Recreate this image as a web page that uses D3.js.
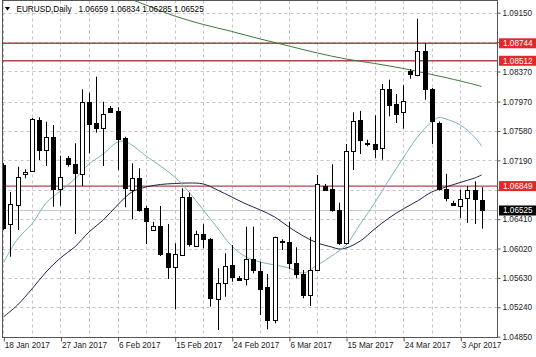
<!DOCTYPE html>
<html><head><meta charset="utf-8">
<script src="https://cdn.jsdelivr.net/npm/d3@7"></script>
<style>
html,body{margin:0;padding:0;background:#fff;}
svg{display:block;font-family:"Liberation Sans",Arial,sans-serif;}
</style></head>
<body><svg id="c" width="536" height="357"></svg>
<script>
const symbolTitle = "EURUSD,Daily";
const headerOHLC = "1.06659 1.06834 1.06285 1.06525";

const dates = ["2017-01-18","2017-01-19","2017-01-20","2017-01-22","2017-01-23","2017-01-24","2017-01-25","2017-01-26","2017-01-27","2017-01-29",
"2017-01-30","2017-01-31","2017-02-01","2017-02-02","2017-02-03","2017-02-05","2017-02-06","2017-02-07","2017-02-08","2017-02-09",
"2017-02-10","2017-02-12","2017-02-13","2017-02-14","2017-02-15","2017-02-16","2017-02-17","2017-02-19","2017-02-20","2017-02-21",
"2017-02-22","2017-02-23","2017-02-24","2017-02-26","2017-02-27","2017-02-28","2017-03-01","2017-03-02","2017-03-03","2017-03-05",
"2017-03-06","2017-03-07","2017-03-08","2017-03-09","2017-03-10","2017-03-12","2017-03-13","2017-03-14","2017-03-15","2017-03-16",
"2017-03-17","2017-03-19","2017-03-20","2017-03-21","2017-03-22","2017-03-23","2017-03-24","2017-03-26","2017-03-27","2017-03-28",
"2017-03-29","2017-03-30","2017-03-31","2017-04-02","2017-04-03","2017-04-04","2017-04-05","2017-04-06"];

const open = [1.07129,1.06342,1.06607,1.07019,1.07040,1.07726,1.07319,1.07496,1.06806,1.07218,
1.07138,1.07019,1.07969,1.07690,1.07616,1.07889,1.07849,1.07483,1.06806,1.06960,
1.06554,1.06266,1.06319,1.05965,1.05771,1.05934,1.06708,1.06058,1.06213,1.06143,
1.05360,1.05567,1.05798,1.05633,1.05607,1.05881,1.05726,1.05506,1.05072,1.06111,
1.06103,1.05824,1.05682,1.05403,1.05735,1.06854,1.06806,1.06532,1.06090,1.07315,
1.07722,1.07421,1.07414,1.07354,1.08137,1.07938,1.07832,1.08380,1.08327,1.08646,
1.08137,1.07686,1.06814,1.06618,1.06594,1.06682,1.06793,1.06659];
const high = [1.07155,1.06770,1.07106,1.07072,1.07753,1.07762,1.07703,1.07660,1.07252,1.07248,
1.07417,1.08133,1.08088,1.08301,1.07969,1.07912,1.07895,1.07504,1.07151,1.07085,
1.06585,1.06376,1.06585,1.06346,1.06090,1.06820,1.06761,1.06257,1.06342,1.06160,
1.05758,1.05957,1.06067,1.05656,1.06310,1.06310,1.05845,1.05682,1.06177,1.06143,
1.06376,1.06037,1.05735,1.06177,1.06996,1.06877,1.07138,1.06628,1.07408,1.07828,
1.07846,1.07465,1.07788,1.08204,1.08261,1.08071,1.08187,1.08403,1.09070,1.08748,
1.08150,1.07706,1.07013,1.06655,1.06801,1.06846,1.06912,1.06834];
const low = [1.06266,1.05912,1.06266,1.06952,1.07036,1.07195,1.07116,1.06575,1.06589,1.07106,
1.06213,1.06850,1.07284,1.07558,1.07116,1.07823,1.07062,1.06567,1.06408,1.06509,
1.06080,1.06257,1.05921,1.05616,1.05214,1.05921,1.06045,1.06045,1.06023,1.05248,
1.04939,1.05381,1.05580,1.05596,1.05530,1.05691,1.05138,1.04948,1.05028,1.06001,
1.05745,1.05625,1.05360,1.05257,1.05722,1.06797,1.06509,1.06067,1.06074,1.07062,
1.07275,1.07377,1.07222,1.07199,1.07775,1.07686,1.07611,1.08274,1.08306,1.07995,
1.07408,1.06788,1.06647,1.06585,1.06425,1.06359,1.06346,1.06285];
const close = [1.06293,1.06607,1.06974,1.07040,1.07735,1.07328,1.07496,1.06806,1.06966,1.07138,
1.07019,1.07969,1.07682,1.07624,1.07806,1.07836,1.07474,1.06820,1.06960,1.06532,
1.06376,1.06319,1.05948,1.05779,1.05948,1.06700,1.06080,1.06213,1.06143,1.05360,
1.05567,1.05788,1.05633,1.05612,1.05879,1.05735,1.05492,1.05072,1.06169,1.06120,
1.05824,1.05682,1.05403,1.05735,1.06873,1.06806,1.06532,1.06090,1.07315,1.07717,
1.07461,1.07414,1.07354,1.08137,1.07929,1.07806,1.07974,1.08337,1.08646,1.08141,
1.07709,1.06814,1.06691,1.06594,1.06682,1.06793,1.06668,1.06525];

// moving averages (bar index, value)
const fastMaIdx = [0,2,4,6,8,10,12,14,16,17,18,20,22,24,26,28,30,32,34,36,38,40,42,44,46,48,50,52,54,56,58,60,61,62,64,66,67];
const fastMa = [1.05828,1.06147,1.06346,1.06624,1.06784,1.06943,1.07142,1.07275,1.07434,1.07441,1.07394,1.07248,1.07116,1.06970,1.06770,1.06532,1.06293,1.06054,1.05908,1.05841,1.05802,1.05762,1.05695,1.05802,1.05921,1.06067,1.06346,1.06624,1.06930,1.07222,1.07500,1.07700,1.07759,1.07739,1.07660,1.07500,1.07381];
const midMaIdx = [0,2,4,6,8,10,12,14,16,18,20,22,24,26,28,30,32,34,36,38,40,42,44,46,47,48,50,52,54,56,58,60,62,64,66,67];
const midMa = [1.05111,1.05271,1.05483,1.05709,1.05895,1.06040,1.06240,1.06399,1.06598,1.06770,1.06837,1.06870,1.06883,1.06890,1.06877,1.06797,1.06704,1.06611,1.06532,1.06439,1.06306,1.06187,1.06094,1.06040,1.06014,1.06027,1.06120,1.06279,1.06425,1.06545,1.06651,1.06770,1.06837,1.06897,1.06956,1.06996];
const slowMaIdx = [17,20,24,28,32,36,40,44,48,52,56,60,64,67];
const slowMa = [1.09359,1.09252,1.09106,1.08994,1.08901,1.08801,1.08708,1.08615,1.08536,1.08476,1.08410,1.08330,1.08244,1.08171];

const levels = [1.08744, 1.08512, 1.06849];
const priceTicks = [1.0485,1.0524,1.0563,1.0602,1.0641,1.0680,1.0719,1.0758,1.0797,1.0837,1.0876,1.0915];
const dateTickDates = ["2017-01-18","2017-01-27","2017-02-06","2017-02-15","2017-02-24","2017-03-06","2017-03-15","2017-03-24","2017-04-03"];
const dateTickLabels = ["18 Jan 2017","27 Jan 2017","6 Feb 2017","15 Feb 2017","24 Feb 2017","6 Mar 2017","15 Mar 2017","24 Mar 2017","3 Apr 2017"];

const svg = d3.select("#c");
const L = 2.5, R = 497.5, T = 0.5, B = 337.5;
const x = d3.scalePoint().domain(dates).range([3.3, 3.3 + 7.14 * (dates.length - 1)]);
const y = d3.scaleLinear().domain([1.0485, 1.0915]).range([336.7, 12.7]);
const px = v => Math.round(v) + 0.5;

svg.append("defs").append("clipPath").attr("id","clip")
  .append("rect").attr("x",L).attr("y",T).attr("width",R-L).attr("height",B-T);
const plot = svg.append("g").attr("clip-path","url(#clip)");

// grid
const gridDates = dates.filter((d,i) => i % 4 === 0);
plot.selectAll(".vg").data(gridDates).enter().append("line")
  .attr("x1", d => px(x(d))).attr("x2", d => px(x(d))).attr("y1", T).attr("y2", B)
  .attr("stroke","#c4c4c4").attr("stroke-dasharray","3,3");
plot.selectAll(".hg").data(priceTicks).enter().append("line")
  .attr("x1", L).attr("x2", R).attr("y1", d => px(y(d))).attr("y2", d => px(y(d)))
  .attr("stroke","#c4c4c4").attr("stroke-dasharray","3,3");

// bid line
const lastClose = close[close.length-1];
plot.append("line").attr("x1",L).attr("x2",R)
  .attr("y1", px(y(lastClose))).attr("y2", px(y(lastClose)))
  .attr("stroke","#c8c8c8");

// levels
plot.selectAll(".lv").data(levels).enter().append("line")
  .attr("x1", L).attr("x2", R).attr("y1", d => y(d)).attr("y2", d => y(d))
  .attr("stroke","#a84a4a").attr("stroke-width",1.4);

// MAs
function maLine(idx, vals, color){
  const pts = idx.map((k,j) => [x(dates[k]), y(vals[j])]);
  plot.append("path").attr("d", d3.line().curve(d3.curveCatmullRom)(pts))
    .attr("fill","none").attr("stroke",color).attr("stroke-width",1);
}
maLine(slowMaIdx, slowMa, "#3e7a3a");
maLine(midMaIdx, midMa, "#1e2350");
maLine(fastMaIdx, fastMa, "#78b4bc");

// candles
const bars = dates.map((d,i) => ({d, o:open[i], h:high[i], l:low[i], c:close[i]}));
const cg = plot.selectAll(".cd").data(bars).enter().append("g");
cg.append("line")
  .attr("x1", b => px(x(b.d))).attr("x2", b => px(x(b.d)))
  .attr("y1", b => y(b.h)).attr("y2", b => y(b.l))
  .attr("stroke","#000");
cg.append("rect")
  .attr("x", b => px(x(b.d)) - 2).attr("width", 4)
  .attr("y", b => Math.round(y(Math.max(b.o,b.c))) + 0.5)
  .attr("height", b => Math.max(1, Math.round(Math.abs(y(b.o) - y(b.c)))))
  .attr("fill", b => b.c >= b.o ? "#fff" : "#000")
  .attr("stroke","#000");

// frame
svg.append("rect").attr("x",L).attr("y",T).attr("width",R-L).attr("height",B-T)
  .attr("fill","none").attr("stroke","#555");

// right axis (labels fully hidden behind price tags are not drawn)
const tagYs = levels.concat([lastClose]).map(v => y(v));
const yAxis = svg.append("g").attr("transform",`translate(${R},0)`)
  .call(d3.axisRight(y).tickValues(priceTicks).tickSize(3).tickPadding(2).tickFormat(d => d.toFixed(5)));
yAxis.select(".domain").remove();
yAxis.selectAll("line").attr("stroke","#555");
yAxis.selectAll("text").attr("font-size","8.2px").attr("fill","#222").attr("font-family","Liberation Sans, Arial, sans-serif");
yAxis.selectAll(".tick").filter(d => tagYs.some(t => Math.abs(t - y(d)) < 5)).select("text").remove();

// bottom axis
const xAxis = svg.append("g").attr("transform",`translate(0,${B})`)
  .call(d3.axisBottom(x).tickValues(dateTickDates).tickSize(4).tickPadding(2)
    .tickFormat(d => dateTickLabels[dateTickDates.indexOf(d)]));
xAxis.select(".domain").remove();
xAxis.selectAll("line").attr("stroke","#555").attr("transform","translate(0.5,0)");
xAxis.selectAll("text").attr("text-anchor","start").attr("dx","1").attr("dy","0.55em")
  .attr("font-size","8.2px").attr("fill","#222").attr("font-family","Liberation Sans, Arial, sans-serif");

// level labels
function priceTag(v, fill){
  const g = svg.append("g").attr("transform",`translate(${R+1.5},${y(v)})`);
  g.append("rect").attr("x",0).attr("y",-5).attr("width",536-R).attr("height",10).attr("fill",fill);
  g.append("text").attr("x",4).attr("y",0).attr("dy","0.35em").attr("fill","#fff")
    .attr("font-size","8.2px").text(v.toFixed(5));
}
levels.forEach(v => priceTag(v, "#e2282a"));
priceTag(lastClose, "#000");

// header
const hd = svg.append("g");
hd.append("path").attr("d","M5,7 L10,7 L7.5,10.5 Z").attr("fill","#000");
hd.append("text").attr("x",16.5).attr("y",12).attr("font-size","8.2px").attr("fill","#000").text(symbolTitle);
hd.append("text").attr("x",78.5).attr("y",12).attr("font-size","8.2px").attr("fill","#000").text(headerOHLC);
</script></body></html>
